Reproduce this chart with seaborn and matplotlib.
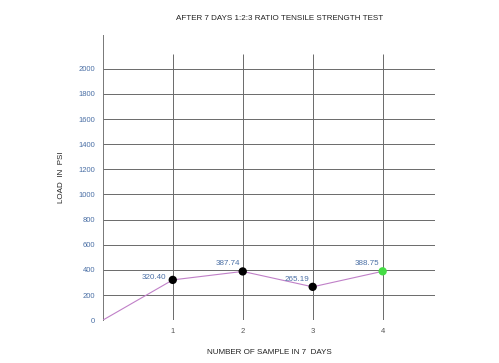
import matplotlib
matplotlib.use("Agg")
import matplotlib.pyplot as plt
import seaborn as sns
import pandas as pd

samples = [0, 1, 2, 3, 4]
loads = [0, 320.40, 387.74, 265.19, 388.75]
point_labels = ["", "320.40", "387.74", "265.19", "388.75"]
marker_group = ["none", "black", "black", "black", "green"]
y_ticks = list(range(0, 2001, 200))
x_ticks = [1, 2, 3, 4]

sns.set_theme(style="white")
plt.rcParams['font.family'] = ['Liberation Sans', 'DejaVu Sans']

df = pd.DataFrame({"sample": samples, "load": loads, "grp": marker_group, "lab": point_labels})

fig = plt.figure(figsize=(4.99, 3.63), dpi=100)
ax = fig.add_axes([0.206, 0.118, 0.666, 0.786])

ax.set_xlim(0, 4.75)
ax.set_ylim(0, 2270)

# grid
for yt in y_ticks:
    ax.axhline(yt, color="#6a6a6a", lw=0.7, zorder=1)
ax.vlines(x_ticks, 0, 2120, color="#6a6a6a", lw=0.7, zorder=1)

sns.lineplot(data=df, x="sample", y="load", color="#c080c8", lw=0.8, ax=ax, zorder=3)
pts = df[df.grp != "none"]
sns.scatterplot(data=pts, x="sample", y="load", hue="grp",
                palette={"black": "black", "green": "#44dd44"},
                s=36, edgecolor="none", legend=False, ax=ax, zorder=4)

for _, r in pts.iterrows():
    if r["sample"] == 1:
        ax.annotate(r["lab"], (r["sample"], r["load"]), xytext=(-5, 2),
                    textcoords="offset points", ha="right", va="center",
                    fontsize=5.8, color="#4a6fa5")
    else:
        ax.annotate(r["lab"], (r["sample"], r["load"]), xytext=(-11, 3),
                    textcoords="offset points", ha="center", va="bottom",
                    fontsize=5.8, color="#4a6fa5")

ax.set_xticks(x_ticks)
ax.set_yticks(y_ticks)
ax.tick_params(axis="both", labelsize=5.5, colors="#555555", length=2, width=0.6)
for t in ax.get_yticklabels():
    t.set_color("#4a6fa5")
for t in ax.get_xticklabels():
    t.set_color("#555555")

for s in ["top", "right"]:
    ax.spines[s].set_visible(False)
ax.spines["left"].set_color("#777777")
ax.spines["left"].set_linewidth(0.7)
ax.spines["bottom"].set_visible(False)

ax.set_xlabel("NUMBER OF SAMPLE IN 7  DAYS", fontsize=5.8, color="#222222", labelpad=10)
ax.set_ylabel("LOAD  IN  PSI", fontsize=5.8, color="#222222", labelpad=10)
fig.text(0.56, 0.95, "AFTER 7 DAYS 1:2:3 RATIO TENSILE STRENGTH TEST",
         ha="center", va="center", fontsize=5.8, color="#222222")

fig.savefig("out.png", dpi=100)
